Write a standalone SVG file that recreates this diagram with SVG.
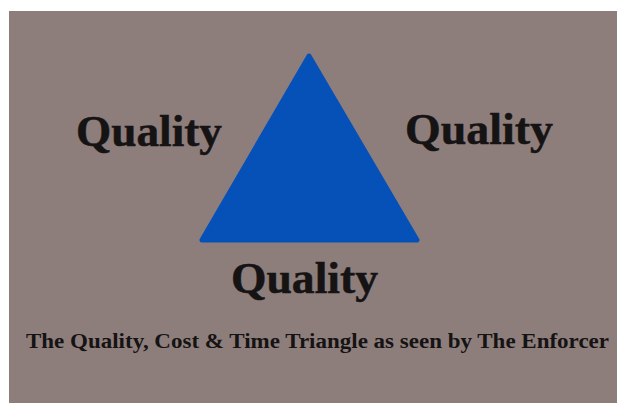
<svg xmlns="http://www.w3.org/2000/svg" width="618" height="405" viewBox="0 0 618 405">
<style>
.q{font-family:"Liberation Serif","DejaVu Serif",serif;font-weight:bold;font-size:44px;fill:#151313;stroke:#151313;stroke-width:0.5}
.c{font-family:"Liberation Serif","DejaVu Serif",serif;font-weight:bold;font-size:20px;fill:#151313}
</style>
<rect x="0" y="0" width="618" height="405" fill="#ffffff"/>
<rect x="9" y="11" width="608" height="392" fill="#8d7e7b"/>
<g id="triangle">
<path d="M309,56 L417,240 L202,240 Z" fill="#0651b8" stroke="#0651b8" stroke-width="5" stroke-linejoin="round"/>
</g>
<g id="quality-left"><text class="q" x="76" y="146" textLength="146" lengthAdjust="spacingAndGlyphs">Quality</text></g>
<g id="quality-right"><text class="q" x="405" y="144" textLength="148" lengthAdjust="spacingAndGlyphs">Quality</text></g>
<g id="quality-bottom"><text class="q" x="231" y="293" textLength="147" lengthAdjust="spacingAndGlyphs">Quality</text></g>
<g id="caption"><text class="c" x="26" y="348" textLength="583" lengthAdjust="spacingAndGlyphs">The Quality, Cost &amp; Time Triangle as seen by The Enforcer</text></g>
<g id="connectors"></g>
</svg>
